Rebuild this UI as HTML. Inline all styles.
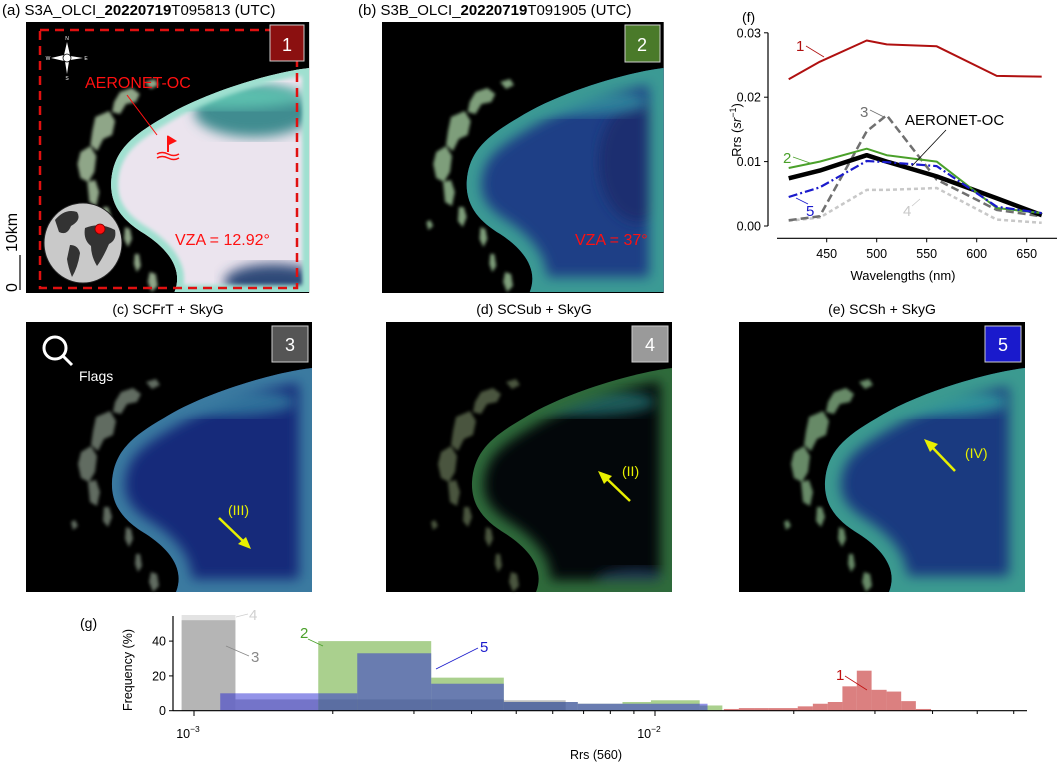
<!DOCTYPE html>
<html><head><meta charset="utf-8"><style>
html,body{margin:0;padding:0;background:#fff;}
svg{display:block;font-family:"Liberation Sans",sans-serif;}
</style></head><body>
<svg id="fig" width="1059" height="764" viewBox="0 0 1059 764" xmlns="http://www.w3.org/2000/svg">
<defs>
  <filter id="blur4"><feGaussianBlur stdDeviation="6"/></filter>
  <filter id="blur2"><feGaussianBlur stdDeviation="2"/></filter>
  <filter id="blur1"><feGaussianBlur stdDeviation="1.5"/></filter>
  <path id="water" d="M286,46 C250,50 180,70 138,96 C105,115 88,130 86,160 C85,185 100,200 120,212 C140,225 160,245 150,270 L286,270 Z"/>
  <clipPath id="wclip"><use href="#water"/></clipPath>
  <g id="land" filter="url(#blur1)">
    <path d="M95,70 l12,-4 l8,6 l-4,8 l-10,2 l-6,10 l-8,-2 l2,-10 z"/>
    <path d="M70,95 l14,-6 l6,10 l-3,14 l-9,4 l-6,12 l-7,-6 l2,-14 z"/>
    <path d="M55,130 l10,-6 l6,10 l-2,16 l-6,10 l-8,-4 l-3,-14 z"/>
    <path d="M62,160 l8,-2 l4,12 l-3,14 l-7,-4 z"/>
    <path d="M78,185 l5,0 l3,10 l-4,10 l-5,-6 z"/>
    <path d="M100,205 l5,2 l2,10 l-4,8 l-4,-8 z"/>
    <path d="M120,60 l10,-3 l4,6 l-8,4 z"/>
    <path d="M110,232 l4,0 l2,12 l-4,6 l-3,-8 z"/>
    <path d="M125,250 l6,2 l2,12 l-6,6 l-4,-10 z"/>
    <path d="M45,200 l4,-2 l3,6 l-5,4 z"/>
  </g>
</defs>

<!-- panel a -->
<g>
  <text x="2" y="15" font-size="15">(a) S3A_OLCI_<tspan font-weight="bold">20220719</tspan>T095813 (UTC)</text>
  <g transform="translate(26,22) scale(0.99,1.0)">
    <rect width="286" height="271" fill="#000"/>
    <g fill="#a9c3a0" opacity="0.85"><use href="#land"/></g>
    <use href="#water" fill="#ebe4ee"/>
    <g clip-path="url(#wclip)">
      <ellipse cx="230" cy="90" rx="60" ry="25" fill="#3f8c90" filter="url(#blur4)"/>
      <ellipse cx="200" cy="75" rx="80" ry="12" fill="#5cbfae" filter="url(#blur4)"/>
      <ellipse cx="250" cy="260" rx="50" ry="18" fill="#2e4a78" filter="url(#blur4)"/>
      <use href="#water" fill="none" stroke="#9fe0d0" stroke-width="14" filter="url(#blur2)"/>
    </g>
  </g>
  <rect x="40" y="30" width="257" height="258" fill="none" stroke="#e01010" stroke-width="2.5" stroke-dasharray="9,6"/>
  <rect x="270" y="25" width="34" height="36" fill="#8b1010" stroke="#ccc" stroke-width="1"/>
  <text x="287" y="51" font-size="18" fill="#fff" text-anchor="middle">1</text>
  <g fill="#fff" font-size="5" text-anchor="middle">
    <polygon points="67,42 70,55 67,74 64,55" fill="#fff"/>
    <polygon points="51,58 64,55 83,58 64,61" fill="#fff"/>
    <circle cx="67" cy="58" r="4" fill="#fff" stroke="#000" stroke-width="0.8"/>
    <text x="67" y="40">N</text><text x="67" y="80">S</text><text x="48" y="60">W</text><text x="86" y="60">E</text>
  </g>
  <text x="85" y="88" font-size="16" fill="#ff1010">AERONET-OC</text>
  <line x1="127" y1="95" x2="157" y2="135" stroke="#ff1010" stroke-width="1"/>
  <g stroke="#ff1010" fill="#ff1010">
    <line x1="168" y1="136" x2="168" y2="152" stroke-width="2"/>
    <polygon points="168,136 176,141 168,145"/>
    <path d="M157,154 q5,-3 11,0 t11,0 M157,158 q5,-3 11,0 t11,0" fill="none" stroke-width="1.5"/>
  </g>
  <g>
    <ellipse cx="83" cy="243" rx="39" ry="40" fill="#c9c9c9" stroke="#222" stroke-width="1"/>
    <path d="M55,220 q10,-12 22,-8 q5,8 -6,14 q-4,10 -12,6 z M70,245 q8,0 10,8 q-2,14 -8,24 q-4,-10 -5,-18 z M85,228 q15,-6 30,2 q2,10 -6,14 q-6,14 -12,22 q-6,-10 -6,-20 q-8,-6 -6,-18 z" fill="#333"/>
    <circle cx="100" cy="229" r="5" fill="#ff1010" stroke="#700" stroke-width="0.8"/>
  </g>
  <text x="175" y="245" font-size="16" fill="#ff1010">VZA = 12.92°</text>
  <g>
    <line x1="20" y1="255" x2="20" y2="290" stroke="#000" stroke-width="1.2"/>
    <text transform="translate(17,292) rotate(-90)" font-size="16">0</text>
    <text transform="translate(17,252) rotate(-90)" font-size="16">10km</text>
  </g>
</g>

<!-- panel b -->
<g>
  <text x="358" y="15" font-size="15">(b) S3B_OLCI_<tspan font-weight="bold">20220719</tspan>T091905 (UTC)</text>
  <g transform="translate(382,22) scale(0.985,1.0)">
    <rect width="286" height="271" fill="#000"/>
    <g fill="#9ec69a" opacity="0.8"><use href="#land"/></g>
    <use href="#water" fill="#1e3f86"/>
    <g clip-path="url(#wclip)">
      <ellipse cx="260" cy="140" rx="40" ry="60" fill="#1a2f70" filter="url(#blur4)"/>
      <ellipse cx="200" cy="80" rx="70" ry="14" fill="#2f7f9a" filter="url(#blur4)"/>
      <use href="#water" fill="none" stroke="#3a9a94" stroke-width="30" filter="url(#blur4)"/>
    </g>
  </g>
  <rect x="625" y="25" width="35" height="37" fill="#4a7a2a" stroke="#ccc" stroke-width="1"/>
  <text x="642" y="51" font-size="18" fill="#fff" text-anchor="middle">2</text>
  <text x="575" y="245" font-size="16" fill="#ff1010">VZA = 37°</text>
</g>

<!-- panel c -->
<g>
  <text x="168" y="314" font-size="14" text-anchor="middle">(c) SCFrT + SkyG</text>
  <g transform="translate(26,322)">
    <rect width="286" height="270" fill="#000"/>
    <g fill="#8a9a8a" opacity="0.7"><use href="#land"/></g>
    <use href="#water" fill="#162a7a"/>
    <g clip-path="url(#wclip)">
      <ellipse cx="200" cy="80" rx="70" ry="14" fill="#2f6f9a" filter="url(#blur4)"/>
      <use href="#water" fill="none" stroke="#3a7aa0" stroke-width="26" filter="url(#blur4)"/>
    </g>
  </g>
  <rect x="272" y="326" width="36" height="36" fill="#555" stroke="#ccc" stroke-width="1"/>
  <text x="290" y="351" font-size="18" fill="#fff" text-anchor="middle">3</text>
  <g>
    <circle cx="55" cy="348" r="11" fill="none" stroke="#fff" stroke-width="3"/>
    <line x1="63" y1="356" x2="72" y2="365" stroke="#fff" stroke-width="3"/>
    <text x="79" y="381" font-size="14" fill="#fff">Flags</text>
  </g>
  <text x="228" y="515" font-size="14" fill="#e8f000">(III)</text>
  <line x1="219" y1="518" x2="245" y2="543" stroke="#e8f000" stroke-width="2.5"/>
  <polygon points="251,549 238,544 246,537" fill="#e8f000"/>
</g>

<!-- panel d -->
<g>
  <text x="534" y="314" font-size="14" text-anchor="middle">(d) SCSub + SkyG</text>
  <g transform="translate(386,322)">
    <rect width="286" height="270" fill="#000"/>
    <g fill="#6a7a5a" opacity="0.7"><use href="#land"/></g>
    <use href="#water" fill="#03070a"/>
    <g clip-path="url(#wclip)">
      <ellipse cx="200" cy="80" rx="70" ry="14" fill="#1f5a5a" filter="url(#blur4)"/>
      <ellipse cx="250" cy="260" rx="40" ry="14" fill="#1a3350" filter="url(#blur4)"/>
      <use href="#water" fill="none" stroke="#2f6a3a" stroke-width="24" filter="url(#blur4)"/>
    </g>
  </g>
  <rect x="632" y="326" width="36" height="36" fill="#9a9a9a" stroke="#ccc" stroke-width="1"/>
  <text x="650" y="351" font-size="18" fill="#fff" text-anchor="middle">4</text>
  <text x="622" y="476" font-size="14" fill="#e8f000">(II)</text>
  <line x1="630" y1="501" x2="605" y2="477" stroke="#e8f000" stroke-width="2.5"/>
  <polygon points="598,471 612,476 604,484" fill="#e8f000"/>
</g>

<!-- panel e -->
<g>
  <text x="882" y="314" font-size="14" text-anchor="middle">(e) SCSh + SkyG</text>
  <g transform="translate(739,322)">
    <rect width="286" height="270" fill="#000"/>
    <g fill="#8ab88a" opacity="0.75"><use href="#land"/></g>
    <use href="#water" fill="#1a3a80"/>
    <g clip-path="url(#wclip)">
      <ellipse cx="200" cy="80" rx="70" ry="14" fill="#2f8f9a" filter="url(#blur4)"/>
      <use href="#water" fill="none" stroke="#3a9a90" stroke-width="32" filter="url(#blur4)"/>
    </g>
  </g>
  <rect x="985" y="326" width="36" height="36" fill="#1a1acc" stroke="#ccc" stroke-width="1"/>
  <text x="1003" y="351" font-size="18" fill="#fff" text-anchor="middle">5</text>
  <text x="965" y="458" font-size="14" fill="#e8f000">(IV)</text>
  <line x1="955" y1="471" x2="931" y2="446" stroke="#e8f000" stroke-width="2.5"/>
  <polygon points="924,439 938,444 930,452" fill="#e8f000"/>
</g>

<g id="chartF"></g>
<g id="chartG"></g>
</svg>
<script>
// ---- Panel f data ----
const wavelengths = [412, 443, 490, 510, 560, 620, 665];
const rrs1 = [0.0228, 0.0255, 0.0288, 0.0282, 0.0279, 0.0233, 0.0232];
const rrs2 = [0.0090, 0.0100, 0.0120, 0.0110, 0.0100, 0.0028, 0.0020];
const rrs3 = [0.0009, 0.0015, 0.0147, 0.0172, 0.0072, 0.0025, 0.0015];
const rrs4 = [0.0008, 0.0013, 0.0056, 0.0056, 0.0059, 0.0010, 0.0005];
const rrs5 = [0.0045, 0.0060, 0.0101, 0.0099, 0.0093, 0.0030, 0.0020];
const rrsAeronet = [0.0074, 0.0086, 0.0110, 0.0100, 0.0077, 0.0043, 0.0017];
const fXTicks = [450, 500, 550, 600, 650];
const fYTicks = [0, 0.01, 0.02, 0.03];
const fYTickLabels = ["0.00", "0.01", "0.02", "0.03"];

// ---- Panel g data ----
const gYTicks = [0, 20, 40];
const hist4Edges = [0.00094, 0.00123];
const hist4Freq = [55];
const hist3Edges = [0.00094, 0.00123, 0.0047, 0.0064];
const hist3Freq = [52, 6.5, 6];
const hist2Edges = [0.00186, 0.00327, 0.0047, 0.0068, 0.0085, 0.0098, 0.0125, 0.014];
const hist2Freq = [40, 19, 5, 4, 5, 6, 3];
const hist5Edges = [0.00114, 0.00186, 0.00226, 0.00327, 0.0047, 0.0068, 0.0098, 0.013];
const hist5Freq = [10, 10, 33, 15.5, 5, 4, 4];
const hist1Edges = [0.0141, 0.0152, 0.0164, 0.0176, 0.0190, 0.0204, 0.0220, 0.0237, 0.0255, 0.0274, 0.0295, 0.0318, 0.0342, 0.0368, 0.0397];
const hist1Freq = [1, 1.5, 1.5, 1.5, 1.5, 2.5, 4, 5, 14, 23, 12, 11, 5.5, 1];

const NS = "http://www.w3.org/2000/svg";
function mk(parent, tag, attrs, text) {
  const e = document.createElementNS(NS, tag);
  for (const k in attrs) e.setAttribute(k, attrs[k]);
  if (text !== undefined) e.textContent = text;
  parent.appendChild(e);
  return e;
}

// ---- Chart f ----
const F = document.getElementById('chartF');
function fxs(nm) { return 826.7 + (nm - 450) * 1.0; }
function fys(v) { return 226 - v * 6440; }
let t = mk(F, 'text', {x: 742, y: 22, 'font-size': 14}, '(f)');


let ax = mk(F, 'line', {x1: 768, y1: fys(0.03), x2: 768, y2: fys(0), stroke: '#000', 'stroke-width': 1.2});


ax = mk(F, 'line', {x1: 777, y1: 238.3, x2: 1057, y2: 238.3, stroke: '#000', 'stroke-width': 1.2});


fYTicks.forEach((v, i) => {
  mk(F, 'line', {x1: 764, y1: fys(v), x2: 768, y2: fys(v), stroke: '#000'});
  const tl = mk(F, 'text', {x: 761, y: fys(v) + 4.5, 'font-size': 12.5, 'text-anchor': 'end'}, fYTickLabels[i]);
  
  
});
fXTicks.forEach(v => {
  mk(F, 'line', {x1: fxs(v), y1: 238.3, x2: fxs(v), y2: 242.3, stroke: '#000'});
  const tl = mk(F, 'text', {x: fxs(v), y: 258, 'font-size': 12.5, 'text-anchor': 'middle'}, String(v));
  
  
});
t = mk(F, 'text', {x: 903, y: 280, 'font-size': 13, 'text-anchor': 'middle'}, 'Wavelengths (nm)');


t = mk(F, 'text', {transform: 'translate(741,130) rotate(-90)', 'font-size': 13, 'text-anchor': 'middle'});
t.innerHTML = 'Rrs (<tspan font-style="italic">sr</tspan><tspan dy="-5" font-size="9">−1</tspan><tspan dy="5">)</tspan>';



function line(vals, color, width, dash, name) {
  const pts = vals.map((v, i) => fxs(wavelengths[i]).toFixed(1) + ',' + fys(v).toFixed(1)).join(' ');
  const p = mk(F, 'polyline', {points: pts, fill: 'none', stroke: color, 'stroke-width': width, 'stroke-dasharray': dash, 'stroke-linejoin': 'round'});
  
  
}
line(rrs1, '#b01010', 2, 'none', 'series-1-line');
line(rrs4, '#c8c8c8', 2.5, '4,3', 'series-4-line');
line(rrs3, '#707070', 2.5, '8,4', 'series-3-line');
line(rrsAeronet, '#000', 4.5, 'none', 'aeronet-line');
line(rrs2, '#4aa02a', 2, 'none', 'series-2-line');
line(rrs5, '#1a1acc', 2.2, '9,3,2,3', 'series-5-line');

function lab(parent, x, y, s, color, name, size) {
  const e = mk(parent, 'text', {x: x, y: y, 'font-size': size || 15, fill: color}, s);
  
  
}
lab(F, 796, 51, '1', '#b01010', 'label-1');
mk(F, 'line', {x1: 806, y1: 46, x2: 824, y2: 57, stroke: '#b01010', 'stroke-width': 0.8});
lab(F, 860, 117, '3', '#707070', 'label-3');
mk(F, 'line', {x1: 870, y1: 110, x2: 884, y2: 117, stroke: '#707070', 'stroke-width': 0.8});
lab(F, 905, 125, 'AERONET-OC', '#000', 'label-aeronet');
mk(F, 'line', {x1: 946, y1: 130, x2: 912, y2: 166, stroke: '#000', 'stroke-width': 0.8});
lab(F, 783, 163, '2', '#4aa02a', 'label-2');
mk(F, 'line', {x1: 793, y1: 157, x2: 810, y2: 163, stroke: '#4aa02a', 'stroke-width': 0.8});
lab(F, 806, 216, '5', '#1a1acc', 'label-5');
mk(F, 'line', {x1: 796, y1: 198, x2: 808, y2: 204, stroke: '#1a1acc', 'stroke-width': 0.8});
lab(F, 903, 216, '4', '#c8c8c8', 'label-4');
mk(F, 'line', {x1: 912, y1: 206, x2: 920, y2: 199, stroke: '#c8c8c8', 'stroke-width': 0.8});

// ---- Chart g ----
const G = document.getElementById('chartG');
function gx(v) { return 194 + (Math.log10(v) + 3) * 461; }
function gy(f) { return 710.7 - f * 1.74; }
t = mk(G, 'text', {x: 80, y: 628, 'font-size': 14}, '(g)');


function hist(edges, freq, color, name) {
  freq.forEach((f, i) => {
    const r = mk(G, 'rect', {x: gx(edges[i]), y: gy(f), width: gx(edges[i + 1]) - gx(edges[i]), height: gy(0) - gy(f), fill: color});
    
    
  });
}
hist(hist4Edges, hist4Freq, 'rgba(200,200,200,0.5)', 'hist-4-bar');
hist(hist3Edges, hist3Freq, 'rgba(150,150,150,0.6)', 'hist-3-bar');
hist(hist2Edges, hist2Freq, 'rgba(100,170,50,0.55)', 'hist-2-bar');
hist(hist5Edges, hist5Freq, 'rgba(40,40,210,0.5)', 'hist-5-bar');
hist(hist1Edges, hist1Freq, 'rgba(200,60,60,0.65)', 'hist-1-bar');

ax = mk(G, 'line', {x1: 173, y1: 616, x2: 173, y2: 710.7, stroke: '#000', 'stroke-width': 1.2});


ax = mk(G, 'line', {x1: 173, y1: 710.7, x2: 1027, y2: 710.7, stroke: '#000', 'stroke-width': 1.2});


gYTicks.forEach(v => {
  mk(G, 'line', {x1: 169, y1: gy(v), x2: 173, y2: gy(v), stroke: '#000'});
  const tl = mk(G, 'text', {x: 166, y: gy(v) + 4.5, 'font-size': 12.5, 'text-anchor': 'end'}, String(v));
  
  
});
for (let d = -3; d <= -2; d++) {
  for (let m = 1; m <= 9; m++) {
    const v = m * Math.pow(10, d);
    const x = gx(v);
    if (x > 1027) break;
    mk(G, 'line', {x1: x, y1: 710.7, x2: x, y2: m === 1 ? 716 : 714, stroke: '#000'});
  }
}
[-3, -2].forEach(d => {
  const e = mk(G, 'text', {x: gx(Math.pow(10, d)) - 6, y: 738, 'font-size': 12.5, 'text-anchor': 'middle'});
  e.innerHTML = '10<tspan dy="-6" font-size="8.5">' + (d === -3 ? '−3' : '−2') + '</tspan>';
  
  
});
t = mk(G, 'text', {x: 596, y: 759, 'font-size': 12.5, 'text-anchor': 'middle'}, 'Rrs (560)');


t = mk(G, 'text', {transform: 'translate(132,670) rotate(-90)', 'font-size': 12.5, 'text-anchor': 'middle'}, 'Frequency (%)');



lab(G, 249, 620, '4', '#d0d0d0', 'hist-label-4');
mk(G, 'line', {x1: 236, y1: 617, x2: 248, y2: 614, stroke: '#d0d0d0', 'stroke-width': 0.8});
lab(G, 251, 662, '3', '#888', 'hist-label-3');
mk(G, 'line', {x1: 226, y1: 646, x2: 249, y2: 656, stroke: '#888', 'stroke-width': 0.8});
lab(G, 300, 638, '2', '#4aa02a', 'hist-label-2');
mk(G, 'line', {x1: 308, y1: 639, x2: 323, y2: 646, stroke: '#4aa02a', 'stroke-width': 0.8});
lab(G, 480, 652, '5', '#1a1acc', 'hist-label-5');
mk(G, 'line', {x1: 478, y1: 648, x2: 436, y2: 669, stroke: '#1a1acc', 'stroke-width': 0.8});
lab(G, 836, 680, '1', '#c01010', 'hist-label-1');
mk(G, 'line', {x1: 845, y1: 676, x2: 867, y2: 690, stroke: '#c01010', 'stroke-width': 0.8});
</script>
</body></html>
